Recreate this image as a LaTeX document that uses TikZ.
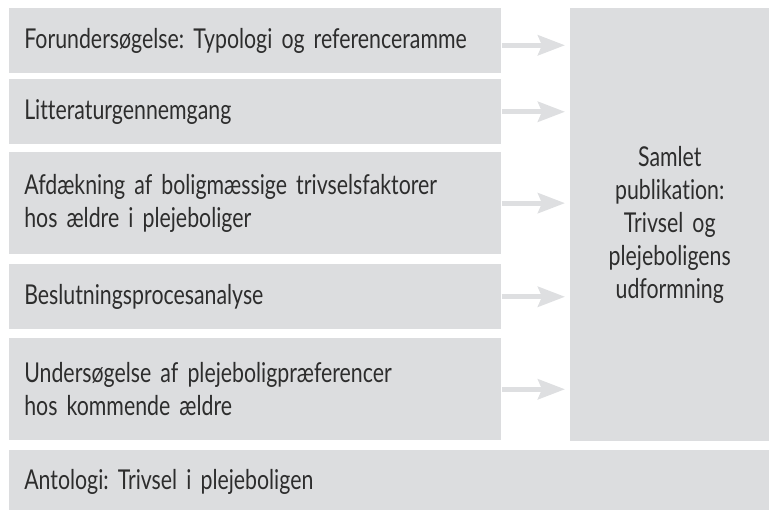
\documentclass[tikz,border=0pt]{standalone}
\usepackage{fontspec}
\setmainfont{Lato}[FakeStretch=0.78, WordSpace=0.72, Ligatures=NoCommon]
\frenchspacing
\usetikzlibrary{arrows.meta}
\definecolor{boxgray}{RGB}{220,221,223}
\definecolor{arrowgray}{RGB}{222,223,225}
\definecolor{txtgray}{RGB}{45,45,45}

\begin{document}
\begin{tikzpicture}[x=0.75pt,y=-0.75pt,
  part/.style={fill=boxgray, text=txtgray, anchor=north west, inner xsep=11.25pt,
    inner ysep=0pt, align=left, text width=346.5pt, minimum width=369pt,
    font=\fontsize{20.5}{24.75}\selectfont},
  flow/.style={draw=arrowgray, line width=3.75pt,
    -{Stealth[length=20.25pt, width=15pt, inset=3pt]}, shorten >=3.75pt}]
\useasboundingbox (0,0) rectangle (769,510);
% the five studies on the left
\foreach \n/\y/\h/\txt in {
  b1/8/48.5/{Forundersøgelse: Typologi og referenceramme},
  b2/79/48.75/{Litteraturgennemgang},
  b3/152/76.3/{Afdækning af boligmæssige trivselsfaktorer\\hos ældre i plejeboliger},
  b4/264/48.75/{Beslutningsprocesanalyse},
  b5/338/76.5/{Undersøgelse af plejeboligpræferencer\\hos kommende ældre}
}{
  \node[part, minimum height=\h pt] (\n) at (9,\y) {\txt};
}
% joint publication
\node[part, align=center, inner xsep=0pt, text width=149.25pt, minimum width=149.25pt,
  minimum height=324.5pt] (sam) at (570,8)
  {Samlet\\publikation:\\Trivsel og\\plejeboligens\\udformning};
% anthology along the bottom (cut by the page edge)
\node[part, text width=547.5pt, minimum width=570pt, minimum height=48pt] (ant) at (9,450)
  {Antologi: Trivsel i plejeboligen};
% arrows into the publication
\foreach \n/\dy in {b1/-3.5, b2/0, b3/0, b4/0, b5/0}{
  \draw[flow] ([yshift=\dy pt]\n.east) -- ([yshift=\dy pt]\n.east -| sam.west);
}
\end{tikzpicture}
\end{document}
